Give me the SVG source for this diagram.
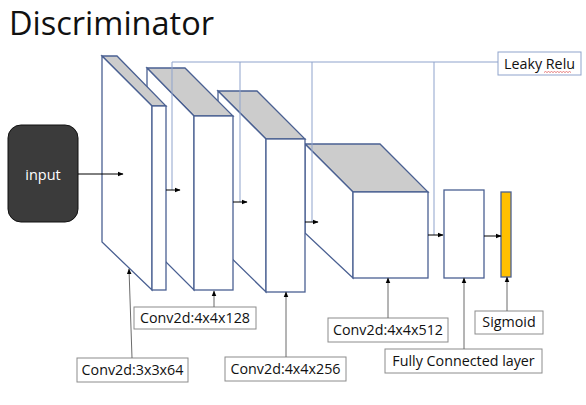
<svg xmlns="http://www.w3.org/2000/svg" width="586" height="405" viewBox="0 0 586 405">
<defs>
<style>
.blk{stroke:#4a6092;stroke-width:1.3;fill:#ffffff;stroke-linejoin:miter}
.top{stroke:#4a6092;stroke-width:1.3;fill:#cccccc}
.relu{stroke:#8fa3cc;stroke-width:1;fill:none}
.arr{stroke:#000;stroke-width:1;fill:none;marker-end:url(#ah)}
.gar{stroke:#6b6b6b;stroke-width:1;fill:none;marker-end:url(#ah)}
.lbl{fill:#fff;stroke:#8c8c8c;stroke-width:1}
.t{font-family:"Open Sans","Noto Sans",sans-serif;font-size:14.3px;fill:#111;text-anchor:middle}
</style>
<marker id="ah" viewBox="0 0 10 10" refX="9" refY="5" markerWidth="6" markerHeight="6" orient="auto" markerUnits="userSpaceOnUse">
<path d="M0,1 L10,5 L0,9 z" fill="#000"/>
</marker>
</defs>
<rect width="586" height="405" fill="#fff"/>
<text x="9" y="35" font-family="Open Sans,Noto Sans,sans-serif" font-size="32.5" fill="#111">Discriminator</text>

<g id="conv4">
<polygon class="top" points="305,144 380,144 428,192 353,192"/>
<polygon class="blk" points="305,144 353,192 353,278 305,233"/>
<rect class="blk" x="353" y="192" width="75" height="86"/>
</g>
<g id="conv3">
<polygon class="top" points="218,91 257,91 305,139 266,139"/>
<polygon class="blk" points="218,91 266,139 266,292 218,245"/>
<rect class="blk" x="266" y="139" width="39" height="153"/>
</g>
<g id="conv2">
<polygon class="top" points="147,68 185,68 233,116 194,116"/>
<polygon class="blk" points="147,68 194,116 194,290 147,243"/>
<rect class="blk" x="194" y="116" width="39" height="174"/>
</g>
<g id="conv1">
<polygon class="top" points="102,56 117,56 166,106 152,106"/>
<polygon class="blk" points="102,56 152,106 152,290 102,242"/>
<rect class="blk" x="152" y="106" width="14" height="184"/>
</g>
<g id="fc">
<rect class="blk" x="444" y="190" width="40" height="88"/>
</g>
<g id="sigmoid">
<rect x="501" y="192" width="10" height="85" fill="#ffc000" stroke="#4a6092" stroke-width="1.3"/>
</g>
<g id="input">
<rect x="8" y="125" width="70" height="97" rx="13" ry="13" fill="#3b3b3b" stroke="#111" stroke-width="1"/>
<text x="43" y="180" font-family="Open Sans,Noto Sans,sans-serif" font-size="14.5" fill="#fff" text-anchor="middle">input</text>
</g>
<g id="leakyrelu">
<rect x="498" y="52" width="83" height="23" fill="#fff" stroke="#8fa3cc" stroke-width="1"/>
<text x="539.5" y="69" class="t">Leaky Relu</text>
<path d="M544,72.5 l1.5,-1 l1.5,1 l1.5,-1 l1.5,1 l1.5,-1 l1.5,1 l1.5,-1 l1.5,1 l1.5,-1 l1.5,1 l1.5,-1 l1.5,1 l1.5,-1 l1.5,1 l1.5,-1 l1.5,1 l1.5,-1 l1.5,1" fill="none" stroke="#e06060" stroke-width="0.8"/>
</g>
<g id="lbl-conv1"><rect class="lbl" x="77" y="358" width="111" height="24"/><text x="132.5" y="375" class="t">Conv2d:3x3x64</text></g>
<g id="lbl-conv2"><rect class="lbl" x="134" y="307" width="122" height="22"/><text x="195" y="323" class="t">Conv2d:4x4x128</text></g>
<g id="lbl-conv3"><rect class="lbl" x="225" y="357" width="121" height="24"/><text x="285.5" y="374" class="t">Conv2d:4x4x256</text></g>
<g id="lbl-conv4"><rect class="lbl" x="328" y="318" width="120" height="24"/><text x="388" y="335" class="t">Conv2d:4x4x512</text></g>
<g id="lbl-fc"><rect class="lbl" x="385" y="349" width="157" height="24"/><text x="463.5" y="366" class="t">Fully Connected layer</text></g>
<g id="lbl-sig"><rect class="lbl" x="475" y="311" width="68" height="23"/><text x="509" y="327" class="t">Sigmoid</text></g>

<g id="connectors">
<path class="relu" d="M172,62 H498 M172,62 V190 M240,62 V202 M312,62 V222 M434,62 V235"/>
<line class="arr" x1="78" y1="174" x2="123" y2="174"/>
<line class="arr" x1="166" y1="190" x2="180" y2="190"/>
<line class="arr" x1="233" y1="202" x2="247" y2="202"/>
<line class="arr" x1="305" y1="222" x2="318" y2="222"/>
<line class="arr" x1="428" y1="235" x2="443" y2="235"/>
<line class="arr" x1="484" y1="236" x2="501" y2="236"/>
<line class="gar" x1="132" y1="358" x2="129" y2="269"/>
<line class="gar" x1="214" y1="307" x2="214" y2="291"/>
<line class="gar" x1="286" y1="357" x2="286" y2="292"/>
<line class="gar" x1="388" y1="318" x2="388" y2="278"/>
<line class="gar" x1="464" y1="349" x2="464" y2="278"/>
<line class="gar" x1="507" y1="311" x2="507" y2="277"/>
</g>
</svg>
